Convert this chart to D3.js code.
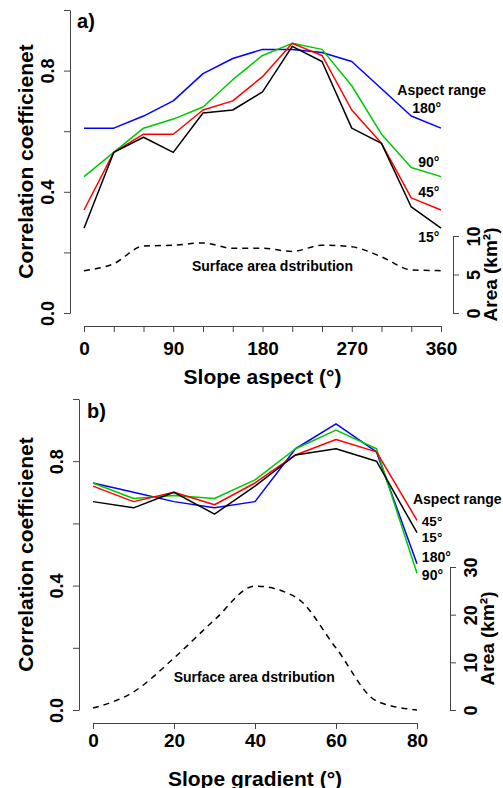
<!DOCTYPE html>
<html>
<head>
<meta charset="utf-8">
<script src="https://cdn.jsdelivr.net/npm/d3@7"></script>
<style>
  body { margin: 0; background: #fff; }
  svg { display: block; font-family: "Liberation Sans", Arial, Helvetica, sans-serif; font-weight: bold; }
  .axis path, .axis line { stroke: #444; stroke-width: 1; }
  .axis text { fill: #000; font-weight: bold; }
</style>
</head>
<body>
<svg id="chart" width="503" height="788"></svg>
<script>
// panel a: slope aspect
const aspectX = [0, 30, 60, 90, 120, 150, 180, 210, 240, 270, 300, 330, 360];
const aspect15 = [0.28, 0.53, 0.58, 0.53, 0.66, 0.67, 0.73, 0.88, 0.83, 0.61, 0.56, 0.35, 0.28];
const aspect45 = [0.34, 0.53, 0.59, 0.59, 0.67, 0.70, 0.78, 0.89, 0.85, 0.67, 0.56, 0.38, 0.34];
const aspect90 = [0.45, 0.53, 0.61, 0.64, 0.68, 0.77, 0.85, 0.89, 0.87, 0.75, 0.59, 0.48, 0.45];
const aspect180 = [0.61, 0.61, 0.65, 0.70, 0.79, 0.84, 0.87, 0.87, 0.86, 0.83, 0.74, 0.65, 0.61];
const aspectArea = [5.5, 6.4, 8.7, 8.8, 9.1, 8.4, 8.4, 8.0, 8.8, 8.6, 7.3, 5.6, 5.5];

// panel b: slope gradient
const gradX = [0, 10, 20, 30, 40, 50, 60, 70, 80];
const grad15 = [0.67, 0.65, 0.70, 0.63, 0.72, 0.82, 0.84, 0.80, 0.57];
const grad45 = [0.72, 0.67, 0.70, 0.66, 0.73, 0.82, 0.87, 0.83, 0.61];
const grad90 = [0.73, 0.68, 0.69, 0.68, 0.74, 0.84, 0.90, 0.84, 0.44];
const grad180 = [0.73, 0.70, 0.67, 0.65, 0.67, 0.84, 0.92, 0.83, 0.47];
const gradArea = [0.4, 3.8, 10.9, 18.9, 26.0, 23.7, 13.0, 1.9, 0.0];

const corrTicks = [0, 0.2, 0.4, 0.6, 0.8, 1.0];
const aspectTicks = [0, 30, 60, 90, 120, 150, 180, 210, 240, 270, 300, 330, 360];
const gradTicks = [0, 20, 40, 60, 80];
const areaTicksA = [0, 5, 10];
const areaTicksB = [0, 10, 20, 30];

const colors = { "15°": "#000000", "45°": "#ff0000", "90°": "#00c800", "180°": "#0000ff" };

const svg = d3.select("#chart");

function panel(opt) {
	const g = svg.append("g");
	const x = d3.scaleLinear().domain(opt.xDomain).range(opt.xRange);
	const y = d3.scaleLinear().domain([0, 1]).range(opt.yRange);
	const yArea = d3.scaleLinear().domain(opt.areaDomain).range(opt.areaRange);

	// left axis
	const left = g.append("g")
		.attr("class", "axis")
		.attr("transform", `translate(${opt.yAxisX},0)`)
		.call(d3.axisLeft(y).tickValues(corrTicks).tickSize(6).tickSizeOuter(0)
			.tickFormat((d) => (Math.round(d * 10) % 4 === 0 ? d3.format(".1f")(d) : "")));
	left.selectAll("text")
		.attr("transform", "rotate(-90)")
		.attr("x", 0).attr("y", -22).attr("dy", null)
		.attr("text-anchor", "middle")
		.attr("dominant-baseline", "central")
		.style("font-size", "18px");

	// bottom axis
	const bottom = g.append("g")
		.attr("class", "axis")
		.attr("transform", `translate(0,${opt.xAxisY})`)
		.call(d3.axisBottom(x).tickValues(opt.xTicks).tickSize(6).tickSizeOuter(0)
			.tickFormat((d) => (d % opt.xLabelEvery === 0 ? d : "")));
	bottom.selectAll("text")
		.attr("y", opt.xLabelOffset).attr("dy", null)
		.attr("dominant-baseline", "central")
		.style("font-size", "19px");

	// right axis (area)
	const right = g.append("g")
		.attr("class", "axis")
		.attr("transform", `translate(${opt.areaAxisX},0)`)
		.call(d3.axisRight(yArea).tickValues(opt.areaTicks).tickSize(6).tickSizeOuter(0));
	right.selectAll("text")
		.attr("transform", "rotate(-90)")
		.attr("x", 0).attr("y", 21).attr("dy", null)
		.attr("text-anchor", "middle")
		.attr("dominant-baseline", "central")
		.style("font-size", "18px");

	// axis titles
	const yMid = (opt.yRange[0] + opt.yRange[1]) / 2;
	g.append("text")
		.attr("transform", `translate(25,${yMid}) rotate(-90)`)
		.attr("text-anchor", "middle")
		.attr("dominant-baseline", "central")
		.style("font-size", "21px")
		.text("Correlation coefficienet");

	g.append("text")
		.attr("x", (opt.xRange[0] + opt.xRange[1]) / 2)
		.attr("y", opt.xTitleY)
		.attr("text-anchor", "middle")
		.attr("dominant-baseline", "central")
		.style("font-size", "21px")
		.text(opt.xTitle);

	const aMid = (opt.areaRange[0] + opt.areaRange[1]) / 2;
	g.append("text")
		.attr("transform", `translate(${opt.areaAxisX + 37},${aMid}) rotate(-90)`)
		.attr("text-anchor", "middle")
		.attr("dominant-baseline", "central")
		.style("font-size", "19px")
		.text("Area (km²)");

	// area distribution (dashed)
	const areaLine = d3.line()
		.x((d, i) => x(opt.xs[i]))
		.y((d) => yArea(d))
		.curve(d3.curveMonotoneX);
	g.append("path")
		.datum(opt.area)
		.attr("fill", "none")
		.attr("stroke", "#000")
		.attr("stroke-width", 1.5)
		.attr("stroke-dasharray", "6,5")
		.attr("d", areaLine);

	// correlation lines
	const line = d3.line()
		.x((d, i) => x(opt.xs[i]))
		.y((d) => y(d));
	opt.series.forEach(function (s) {
		g.append("path")
			.datum(s.values)
			.attr("fill", "none")
			.attr("stroke", colors[s.name])
			.attr("stroke-width", 1.5)
			.attr("stroke-linejoin", "round")
			.attr("d", line);
	});

	// annotations
	g.append("text")
		.attr("x", x(opt.panelLabel[0]))
		.attr("y", y(opt.panelLabel[1]))
		.attr("dominant-baseline", "central")
		.style("font-size", "20px")
		.text(opt.panelLabel[2]);

	opt.notes.forEach(function (n) {
		g.append("text")
			.attr("x", x(n[0]))
			.attr("y", y(n[1]))
			.attr("text-anchor", n[3] || "start")
			.attr("dominant-baseline", "central")
			.style("font-size", n[4] || "14px")
			.text(n[2]);
	});
}

panel({
	xDomain: [0, 360], xRange: [84, 441],
	yRange: [313, 10], yAxisX: 70,
	xAxisY: 326, xTicks: aspectTicks, xLabelEvery: 90, xLabelOffset: 22, xTitleY: 376,
	xTitle: "Slope aspect (°)",
	areaDomain: [0, 10], areaRange: [313, 236], areaAxisX: 453, areaTicks: areaTicksA,
	xs: aspectX, area: aspectArea,
	series: [
		{ name: "180°", values: aspect180 },
		{ name: "90°", values: aspect90 },
		{ name: "45°", values: aspect45 },
		{ name: "15°", values: aspect15 },
	],
	panelLabel: [-7, 0.965, "a)"],
	notes: [
		[316, 0.737, "Aspect range"],
		[331, 0.678, "180°"],
		[337, 0.50, "90°"],
		[337, 0.40, "45°"],
		[337, 0.25, "15°"],
		[190, 0.155, "Surface area dstribution", "middle"],
	],
});

panel({
	xDomain: [0, 80], xRange: [93, 417],
	yRange: [710, 399], yAxisX: 79,
	xAxisY: 723, xTicks: gradTicks, xLabelEvery: 20, xLabelOffset: 17, xTitleY: 778,
	xTitle: "Slope gradient (°)",
	areaDomain: [0, 30], areaRange: [710, 567], areaAxisX: 450, areaTicks: areaTicksB,
	xs: gradX, area: gradArea,
	series: [
		{ name: "180°", values: grad180 },
		{ name: "90°", values: grad90 },
		{ name: "45°", values: grad45 },
		{ name: "15°", values: grad15 },
	],
	panelLabel: [-1.5, 0.96, "b)"],
	notes: [
		[79, 0.68, "Aspect range"],
		[81.2, 0.607, "45°", "start", "13.5px"],
		[81.2, 0.556, "15°", "start", "13.5px"],
		[81.2, 0.492, "180°"],
		[81.2, 0.434, "90°"],
		[39.8, 0.106, "Surface area dstribution", "middle"],
	],
});
</script>
</body>
</html>
